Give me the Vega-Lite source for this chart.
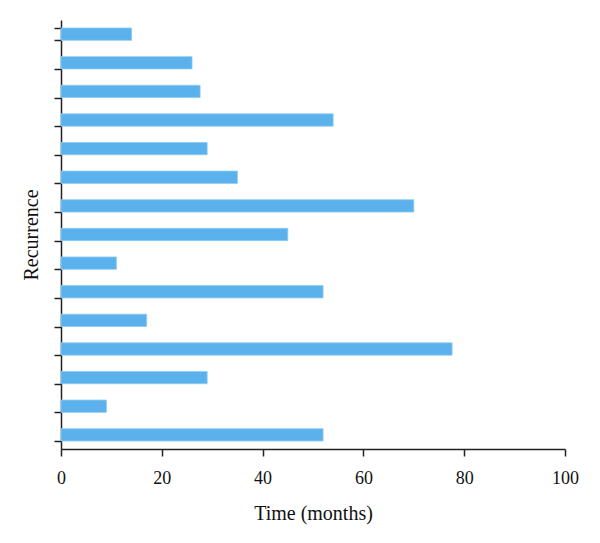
{
  "$schema": "https://vega.github.io/schema/vega-lite/v6.json",
  "autosize": "none",
  "width": 504,
  "height": 429,
  "padding": {"left": 61, "top": 20, "right": 35, "bottom": 94},
  "background": "white",
  "config": {
    "view": {"stroke": null},
    "font": "Liberation Serif",
    "axis": {
      "domainColor": "#222222",
      "domainWidth": 1.5,
      "tickColor": "#222222",
      "tickWidth": 1.5,
      "tickSize": 7,
      "grid": false,
      "labelFont": "Liberation Serif",
      "titleFont": "Liberation Serif",
      "labelColor": "#111111",
      "titleColor": "#111111",
      "titleFontWeight": "normal"
    }
  },
  "data": {
    "values": [
      {"id": 1, "time": 14},
      {"id": 2, "time": 26},
      {"id": 3, "time": 27.6},
      {"id": 4, "time": 54},
      {"id": 5, "time": 29},
      {"id": 6, "time": 35},
      {"id": 7, "time": 70},
      {"id": 8, "time": 45},
      {"id": 9, "time": 11},
      {"id": 10, "time": 52},
      {"id": 11, "time": 17},
      {"id": 12, "time": 77.6},
      {"id": 13, "time": 29},
      {"id": 14, "time": 9},
      {"id": 15, "time": 52}
    ]
  },
  "mark": {"type": "bar", "color": "#5BB1EC", "stroke": "#8CCBF3", "strokeWidth": 0.8},
  "encoding": {
    "y": {
      "field": "id",
      "type": "ordinal",
      "sort": "ascending",
      "scale": {"paddingInner": 0.57, "paddingOuter": 0.28},
      "axis": {
        "title": "Recurrence",
        "labels": false,
        "tickBand": "extent",
        "titleFontSize": 20,
        "titlePadding": 12
      }
    },
    "x": {
      "field": "time",
      "type": "quantitative",
      "scale": {"domain": [0, 100], "nice": false},
      "axis": {
        "title": "Time (months)",
        "values": [0, 20, 40, 60, 80, 100],
        "labelFlush": false,
        "labelFontSize": 18,
        "labelPadding": 13,
        "titleFontSize": 20,
        "titlePadding": 16
      }
    }
  }
}
